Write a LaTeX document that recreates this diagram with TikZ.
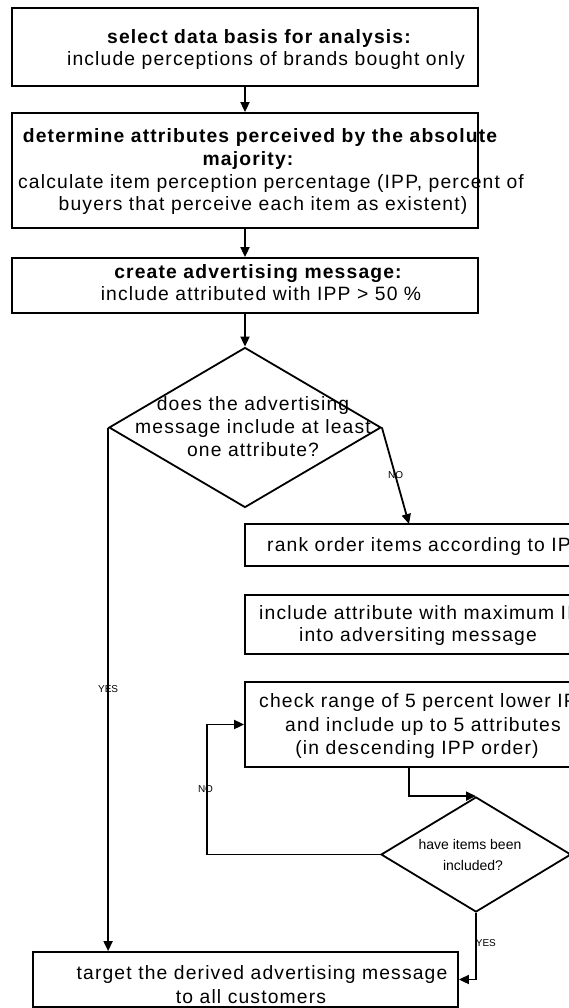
\documentclass[tikz,border=0pt]{standalone}
\usepackage{fontspec}
\setmainfont{Liberation Sans}
\newfontfamily\boxfont[LetterSpace=6]{Liberation Sans}
\usetikzlibrary{arrows.meta,shapes.geometric}
\begin{document}
\begin{tikzpicture}[x=1pt,y=-1pt,
  boxshape/.style={draw, line width=1.8pt, rectangle, inner sep=0pt},
  decshape/.style={draw, line width=1.8pt, diamond, inner sep=0pt},
  ln/.style={anchor=base, inner sep=0pt, font=\boxfont\fontsize{19.3}{22}\selectfont},
  lnw/.style={ln, anchor=base west},
  bln/.style={ln, font=\boxfont\bfseries\fontsize{19.3}{22}\selectfont},
  sln/.style={anchor=base, inner sep=0pt, font=\fontsize{14}{16}\selectfont},
  conn/.style={line width=1.8pt, -{Triangle[length=10pt,width=9pt]}},
  lab/.style={inner sep=0pt, font=\fontsize{10}{11}\selectfont},
]
\useasboundingbox (0,0) rectangle (569,1008);
\clip (0,0) rectangle (569,1008);

% boxes
\node[boxshape, minimum width=466pt, minimum height=78pt] (b1) at (245,47) {};
\node[boxshape, minimum width=466pt, minimum height=115pt] (b2) at (245,170.5) {};
\node[boxshape, minimum width=466pt, minimum height=55pt] (b3) at (245,285.5) {};
\node[decshape, minimum width=272pt, minimum height=160pt] (d1) at (245,427.5) {};
\node[boxshape, minimum width=350pt, minimum height=42pt] (rank) at (420,545) {};
\node[boxshape, minimum width=350pt, minimum height=59pt] (incl) at (420,624.5) {};
\node[boxshape, minimum width=350pt, minimum height=85pt] (chk) at (420,724.5) {};
\node[decshape, minimum width=190pt, minimum height=115pt] (d2) at (476,854.5) {};
\node[boxshape, minimum width=425pt, minimum height=55pt] (fin) at (245.5,979.5) {};

% texts
\node[bln] (t1a) at (259,44) {select data basis for analysis:};
\node[ln] (t1b) at (266,66) {include perceptions of brands bought only};
\node[bln] (t2a) at (260,143) {determine attributes perceived by the absolute};
\node[bln] (t2b) at (248,166) {majority:};
\node[ln] (t2c) at (271,189) {calculate item perception percentage (IPP, percent of};
\node[ln] (t2d) at (263,211) {buyers that perceive each item as existent)};
\node[bln] (t3a) at (258,278) {create advertising message:};
\node[ln] (t3b) at (261,300) {include attributed with IPP > 50 \%};
\node[ln] (q1a) at (253,410) {does the advertising};
\node[ln] (q1b) at (253,433) {message include at least};
\node[ln] (q1c) at (253,456) {one attribute?};
\node[lnw] (r1) at (267,551) {rank order items according to IPP};
\node[lnw] (i1) at (259,619) {include attribute with maximum IPP};
\node[ln] (i2) at (418,641) {into adversiting message};
\node[lnw] (c1) at (259,707) {check range of 5 percent lower IPP};
\node[ln] (c2) at (423,731) {and include up to 5 attributes};
\node[ln] (c3) at (417,754) {(in descending IPP order)};
\node[sln] (q2a) at (470,849.5) {have items been};
\node[sln] (q2b) at (473,870.5) {included?};
\node[ln] (f1) at (262,979) {target the derived advertising message};
\node[ln] (f2) at (251,1003) {to all customers};

% connectors
\coordinate (rk) at (409,524);
\coordinate (cb) at (409,767);
\coordinate (lp) at (207,854.5);
\draw[conn] (b1.south) -- (b2.north);
\draw[conn] (b2.south) -- (b3.north);
\draw[conn] (b3.south) -- (d1.north);
\draw[conn] (d1.east) -- node[lab, pos=0.49, xshift=0.5pt] {NO} (rk);
\draw[conn] (d1.west) -- node[lab, pos=0.5] {YES} (d1.west |- fin.north);
\draw[conn] (cb) |- (d2.north);
\draw[conn] (d2.west) -- (lp) |- node[lab, pos=0.25, xshift=-1.5pt] {NO} (chk.west);
\draw[conn] (d2.south) |- node[lab, pos=0.23, anchor=west, xshift=-1pt] {YES} (fin.east);
\end{tikzpicture}
\end{document}
